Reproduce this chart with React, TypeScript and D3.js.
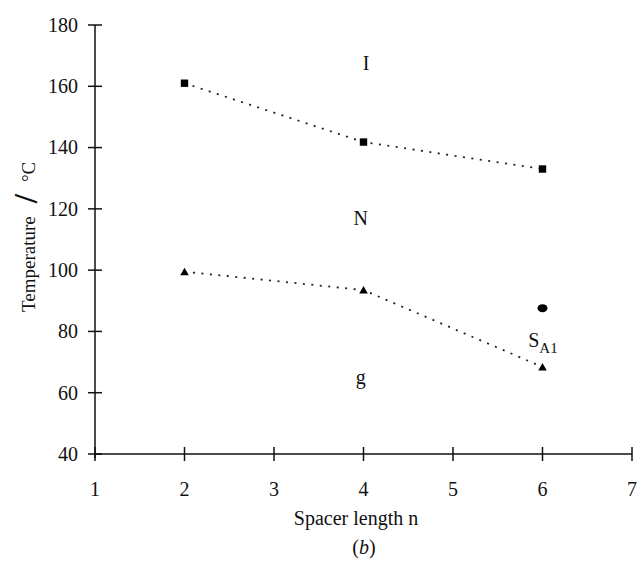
import { useEffect } from "react";
import * as d3 from "d3";

// spacer length n of each compound
const spacerN = [2, 4, 6];
// N-I transition (squares)
const clearingT = [161, 141.8, 133];
// glass transition (triangles)
const glassT = [99.5, 93.5, 68.4];
// S_A1 transition (filled circle)
const smecticN = [6];
const smecticT = [87.6];

const xTicks = [1, 2, 3, 4, 5, 6, 7];
const yTicks = [40, 60, 80, 100, 120, 140, 160, 180];

// phase labels placed in data coordinates (baseline)
const phaseText = ["I", "N", "g"];
const phaseX = [4.03, 3.97, 3.97];
const phaseY = [165.3, 114.7, 62.8];

const width = 639;
const height = 568;
const font = "'Liberation Serif', 'Times New Roman', serif";

const x = d3.scaleLinear().domain([1, 7]).range([95, 632]);
const y = d3.scaleLinear().domain([40, 180]).range([454, 25]);

const drawChart = () => {
    d3.select("#chart").select("svg").remove();

    const svg = d3.select("#chart")
        .append("svg")
        .attr("width", width)
        .attr("height", height)
        .style("display", "block")
        .style("background", "#fff");

    // axes
    const axes = svg.append("g").attr("stroke", "#111").attr("stroke-width", 1.5);
    axes.append("line")
        .attr("x1", x(1)).attr("x2", x(1))
        .attr("y1", y(40) + 4).attr("y2", y(180));
    axes.append("line")
        .attr("x1", x(1)).attr("x2", x(7))
        .attr("y1", y(40)).attr("y2", y(40));

    axes.selectAll(".ytick")
        .data(yTicks)
        .join("line")
        .attr("x1", x(1) - 7).attr("x2", x(1) + 7)
        .attr("y1", d => y(d)).attr("y2", d => y(d));

    axes.selectAll(".xtick")
        .data(xTicks)
        .join("line")
        .attr("x1", d => x(d)).attr("x2", d => x(d))
        .attr("y1", y(40) - 7).attr("y2", y(40) + 7);

    const labels = svg.append("g")
        .attr("font-family", font)
        .attr("font-size", 20)
        .attr("fill", "#111");

    labels.selectAll(".ylab")
        .data(yTicks)
        .join("text")
        .attr("x", 78)
        .attr("y", d => y(d))
        .attr("dy", "0.34em")
        .attr("text-anchor", "end")
        .text(d => d);

    labels.selectAll(".xlab")
        .data(xTicks)
        .join("text")
        .attr("x", d => x(d))
        .attr("y", 496)
        .attr("text-anchor", "middle")
        .text(d => d);

    // axis titles
    labels.append("text")
        .attr("x", 356)
        .attr("y", 525)
        .attr("text-anchor", "middle")
        .text("Spacer length n");

    labels.append("text")
        .attr("x", 364)
        .attr("y", 554)
        .attr("text-anchor", "middle")
        .call(t => t.append("tspan").text("("))
        .call(t => t.append("tspan").attr("font-style", "italic").text("b"))
        .call(t => t.append("tspan").text(")"));

    // rotated title with the big slash
    const yTitle = labels.append("text")
        .attr("transform", "translate(35,312) rotate(-90)")
        .attr("font-size", 19);
    yTitle.append("tspan").text("Temperature");
    yTitle.append("tspan")
        .attr("dx", 13)
        .attr("dy", 1.5)
        .attr("font-size", 33)
        .attr("font-weight", "bold")
        .text("/");
    yTitle.append("tspan").attr("dx", 12).attr("dy", -1.5).text("°C");

    // dotted connecting lines
    const line = d3.line()
        .x(d => x(d[0]))
        .y(d => y(d[1]));

    [clearingT, glassT].forEach(series => {
        svg.append("path")
            .datum(spacerN.map((n, i) => [n, series[i]]))
            .attr("d", line)
            .attr("fill", "none")
            .attr("stroke", "#222")
            .attr("stroke-width", 1.8)
            .attr("stroke-dasharray", "2 6.5");
    });

    // squares
    svg.selectAll(".sq")
        .data(spacerN.map((n, i) => [n, clearingT[i]]))
        .join("rect")
        .attr("x", d => x(d[0]) - 3.7)
        .attr("y", d => y(d[1]) - 3.7)
        .attr("width", 7.4)
        .attr("height", 7.4)
        .attr("fill", "#000");

    // triangles
    svg.selectAll(".tri")
        .data(spacerN.map((n, i) => [n, glassT[i]]))
        .join("path")
        .attr("d", d => {
            const cx = x(d[0]);
            const cy = y(d[1]);
            return `M${cx},${cy - 4}L${cx + 4.3},${cy + 3.5}L${cx - 4.3},${cy + 3.5}Z`;
        })
        .attr("fill", "#000");

    // S_A1 circle
    svg.selectAll(".dot")
        .data(smecticN.map((n, i) => [n, smecticT[i]]))
        .join("ellipse")
        .attr("cx", d => x(d[0]))
        .attr("cy", d => y(d[1]))
        .attr("rx", 5)
        .attr("ry", 4)
        .attr("fill", "#000");

    // phase labels
    labels.selectAll(".phase")
        .data(phaseText)
        .join("text")
        .attr("x", (d, i) => x(phaseX[i]))
        .attr("y", (d, i) => y(phaseY[i]))
        .attr("text-anchor", "middle")
        .text(d => d);

    labels.append("text")
        .attr("x", x(5.84))
        .attr("y", y(75))
        .call(t => t.append("tspan").text("S"))
        .call(t => t.append("tspan").attr("dy", 6).attr("font-size", 15).text("A1"));
};

export default function App() {
    useEffect(() => {
        document.body.style.margin = "0";
        drawChart();
    }, []);

    return <div id="chart" />;
}
